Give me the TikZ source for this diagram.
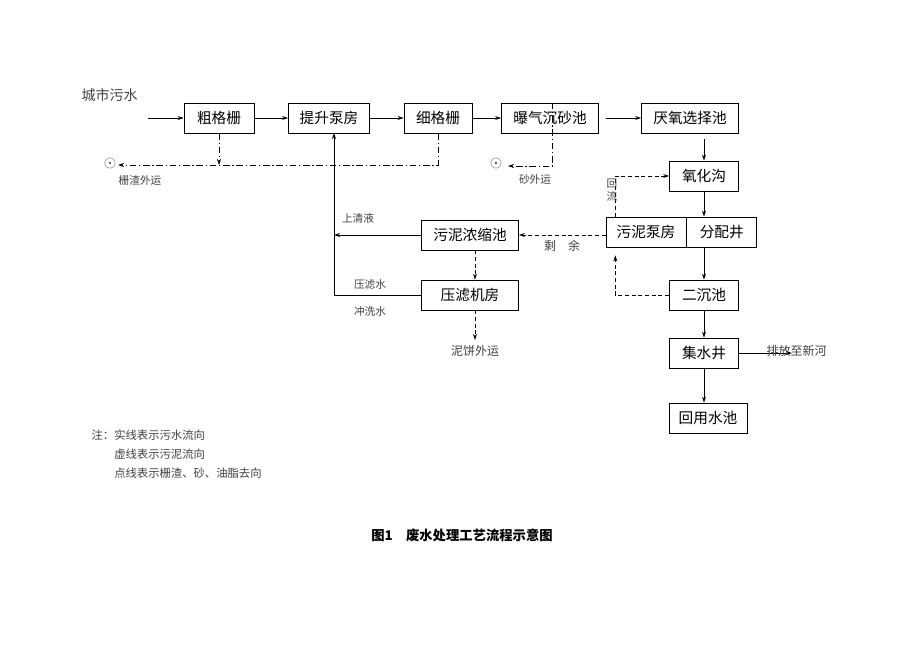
\documentclass[tikz,border=0pt]{standalone}
\usepackage{fontspec}
\setmainfont{Noto Sans CJK SC}
\usetikzlibrary{arrows.meta,positioning}
\tikzset{
  unit/.style={draw, semithick, minimum height=22.5pt, inner sep=2pt, font=\fontsize{11}{11}\selectfont},
  lbl/.style={font=\fontsize{8}{8}\selectfont, text=black!75, inner sep=1pt},
  flow/.style={semithick, -{Stealth[length=4.5pt,width=3pt]}},
  sludge/.style={flow, dash pattern=on 3pt off 2pt},
  grit/.style={flow, dash pattern=on 5pt off 2pt on 1pt off 2pt}
}
\begin{document}
\begin{tikzpicture}[x=0.75pt,y=-0.75pt]
    \useasboundingbox (0,0) rectangle (920,651);

    % main line
    \node [unit, minimum width=52.5pt] (coarse) at (219,118) {粗格栅};
    \node [unit, minimum width=60.75pt] (lift) at (329,118) {提升泵房};
    \node [unit, minimum width=51pt] (fine) at (438,118) {细格栅};
    \node [unit, minimum width=72.75pt] (grit) at (550,118) {曝气沉砂池};
    \node [unit, minimum width=72.75pt] (anox) at (690,118) {厌氧选择池};

    % right column
    \node [unit, minimum width=51.75pt] (oxid) at (704,176) {氧化沟};
    \node [unit, minimum width=60pt] (pump) at (646,232) {污泥泵房};
    \node [unit, minimum width=52.5pt, anchor=west] (distr) at (pump.east) {分配井};
    \node [unit, minimum width=51.75pt] (clar) at (704,295) {二沉池};
    \node [unit, minimum width=51.75pt] (well) at (704,353) {集水井};
    \node [unit, minimum width=58.5pt] (reuse) at (708,418) {回用水池};

    % sludge line
    \node [unit, minimum width=72.75pt] (thick) at (470,235) {污泥浓缩池};
    \node [unit, minimum width=72.75pt] (press) at (470,295) {压滤机房};

    % free ends
    \coordinate (inlet) at (148,118);
    \coordinate (screen) at (118,165);
    \coordinate (sand) at (508,166);
    \coordinate (ret) at (334,295);
    \coordinate (cake) at (475,340);
    \coordinate (river) at (792,353);

    % sewage flow
    \node [lbl, font=\fontsize{10.5}{10}\selectfont, anchor=west] (city) at (80,95) {城市污水};
    \draw [flow] (inlet) -- (coarse);
    \draw [flow] (coarse) -- (lift);
    \draw [flow] (lift) -- (fine);
    \draw [flow] (fine) -- (grit);
    \draw [flow] ([xshift=5pt]grit.east) -- (anox);
    \draw [flow] ([xshift=10.5pt,yshift=-4pt]anox.south) -- (oxid);
    \draw [flow] (oxid) -- (oxid |- distr.north);
    \draw [flow] (oxid |- distr.south) -- (clar);
    \draw [flow] (clar) -- (well);
    \draw [flow] (well) -- (well |- reuse.north);
    \draw [flow] (well) -- (river);
    \node [lbl, font=\fontsize{9}{9}\selectfont, anchor=west] (riverlbl) at (765,351) {排放至新河};

    % screenings and sand
    \draw [grit] (coarse.south) -- (coarse.south |- screen);
    \draw [grit] (fine.south) |- (screen);
    \node [lbl, font=\fontsize{13}{13}\selectfont] (dot1) at (110,163) {$\odot$};
    \node [lbl] (screenlbl) at (140,180) {栅渣外运};
    \draw [grit] ([xshift=2pt]grit.north) |- (sand);
    \node [lbl, font=\fontsize{13}{13}\selectfont] (dot2) at (496,163) {$\odot$};
    \node [lbl] (sandlbl) at (535,179) {砂外运};

    % return water
    \draw [flow] (press.west) -- (ret) -- (334,133);
    \draw [flow] (thick.west) -- (334,235);
    \node [lbl] (clearlbl) at (358,218) {上清液};
    \node [lbl] (presslbl) at (370,284) {压滤水};
    \node [lbl] (washlbl) at (370,311) {冲洗水};

    % sludge
    \draw [sludge] ([xshift=-23pt]pump.north) |- (oxid.west);
    \node [lbl, align=center, font=\fontsize{8}{10}\selectfont] (retlbl) at (612,190) {回\\流};
    \draw [sludge] (clar.west) -| ([xshift=-23pt,yshift=-6pt]pump.south);
    \draw [sludge] (pump.west |- thick) -- (thick.east);
    \node [lbl, font=\fontsize{9}{9}\selectfont] (surplbl) at (562,246) {剩\quad 余};
    \draw [sludge] ([xshift=3.75pt]thick.south) -- ([xshift=3.75pt]press.north);
    \draw [sludge] ([xshift=3.75pt]press.south) -- (cake);
    \node [lbl, font=\fontsize{9}{9}\selectfont] (cakelbl) at (475,351) {泥饼外运};

    % notes
    \node [lbl, anchor=west, align=left, font=\fontsize{8.5}{14}\selectfont] (notes) at (90,454)
          {注：实线表示污水流向\\\hspace{2em}虚线表示污泥流向\\\hspace{2em}点线表示栅渣、砂、油脂去向};

    % Figure Label
    \node [font=\bfseries\fontsize{10}{10}\selectfont] (caption) at (462,535) {图1\quad 废水处理工艺流程示意图};
\end{tikzpicture}
\end{document}
